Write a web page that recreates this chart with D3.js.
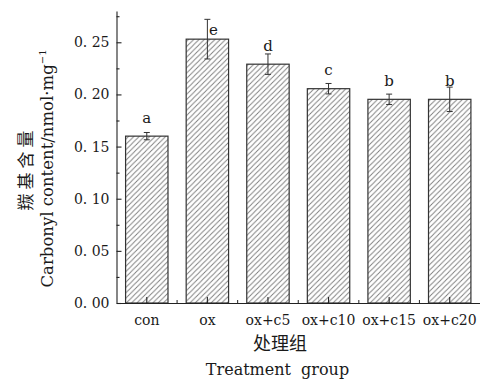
<!DOCTYPE html>
<html>
<head>
<meta charset="utf-8">
<script src="https://cdn.jsdelivr.net/npm/d3@7"></script>
<style>
  html, body { margin: 0; padding: 0; background: #fff; }
  svg { display: block; }
  .serif { font-family: "DejaVu Serif", "Liberation Serif", serif; fill: #1a1a1a; }
  .cjk { font-family: "Noto Sans CJK SC", sans-serif; fill: #1a1a1a; }
</style>
</head>
<body>
<svg id="chart" width="480" height="382"></svg>
<script>
// Carbonyl content per treatment group (mean ± error), with significance letters
const groups   = ["con", "ox", "ox+c5", "ox+c10", "ox+c15", "ox+c20"];
const means    = [0.160, 0.253, 0.229, 0.2055, 0.1953, 0.1953];
const errors   = [0.0035, 0.019, 0.0098, 0.005, 0.005, 0.0117];
const letters  = ["a", "e", "d", "c", "b", "b"];
const yMajorTicks = [0, 0.05, 0.10, 0.15, 0.20, 0.25];
const yMinorTicks = [0.025, 0.075, 0.125, 0.175, 0.225, 0.275];
const yTitleCn = "羰基含量";
const yTitleEn = "Carbonyl content/nmol·mg";
const xTitleCn = "处理组";
const xTitleEn = "Treatment group";

const svg = d3.select("#chart");
const axisColor = "#222";

const x = d3.scaleBand().domain(groups).range([116.5, 480]).paddingInner(0).paddingOuter(0);
const y = d3.scaleLinear().domain([0, 0.28]).range([303, 11]);
const barW = x.bandwidth() * 0.7;

// diagonal hatch fill
const s = 5.3;
const defs = svg.append("defs");
defs.append("pattern")
  .attr("id", "hatch")
  .attr("patternUnits", "userSpaceOnUse")
  .attr("width", s).attr("height", s)
  .append("path")
  .attr("d", `M0,${s} L${s},0 M-1,1 L1,-1 M${s - 1},${s + 1} L${s + 1},${s - 1}`)
  .attr("stroke", "#7a7a7a")
  .attr("stroke-width", 0.9)
  .attr("fill", "none");

const rows = groups.map((g, i) => ({ g, v: means[i], e: errors[i], l: letters[i] }));

// bars
svg.append("g").selectAll("rect").data(rows).join("rect")
  .attr("x", d => x(d.g) + (x.bandwidth() - barW) / 2)
  .attr("y", d => y(d.v))
  .attr("width", barW)
  .attr("height", d => y(0) - y(d.v))
  .attr("fill", "url(#hatch)")
  .attr("stroke", "#333")
  .attr("stroke-width", 1.2);

// error bars
const cap = 3;
const eb = svg.append("g").attr("stroke", "#333").attr("stroke-width", 1);
rows.forEach(d => {
  const cx = x(d.g) + x.bandwidth() / 2;
  eb.append("line").attr("x1", cx).attr("x2", cx).attr("y1", y(d.v + d.e)).attr("y2", y(d.v - d.e));
  eb.append("line").attr("x1", cx - cap).attr("x2", cx + cap).attr("y1", y(d.v + d.e)).attr("y2", y(d.v + d.e));
  eb.append("line").attr("x1", cx - cap).attr("x2", cx + cap).attr("y1", y(d.v - d.e)).attr("y2", y(d.v - d.e));
});

// significance letters; moved beside the error bar when it reaches into the label spot
svg.append("g").selectAll("text").data(rows).join("text")
  .attr("class", "serif")
  .attr("font-size", 15)
  .each(function (d) {
    const cx = x(d.g) + x.bandwidth() / 2;
    const top = y(d.v);
    const errTop = y(d.v + d.e);
    const sel = d3.select(this);
    if (errTop < top - 16) {
      sel.attr("x", cx + 1.5).attr("y", top - 4.5).attr("text-anchor", "start");
    } else {
      sel.attr("x", cx).attr("y", top - 13.5).attr("text-anchor", "middle");
    }
  })
  .text(d => d.l);

// y axis (ticks pointing inward)
const yAxis = svg.append("g").attr("transform", "translate(116.5,0)")
  .call(d3.axisLeft(y).tickValues(yMajorTicks).tickSizeInner(-5).tickSizeOuter(0).tickPadding(7)
    .tickFormat(d => d3.format(".2f")(d).replace(".", ". ")));
svg.append("g").attr("transform", "translate(116.5,0)")
  .call(d3.axisLeft(y).tickValues(yMinorTicks).tickSize(-3).tickFormat(""))
  .call(g => g.select(".domain").remove());

// x axis (ticks at group centres, shorter ones between groups)
svg.append("g").attr("transform", "translate(0,303)")
  .call(d3.axisBottom(x).tickSizeInner(-6).tickSizeOuter(0).tickPadding(12));
const bounds = groups.slice(1).map(g => x(g));
svg.append("g").selectAll("line").data(bounds).join("line")
  .attr("x1", d => d).attr("x2", d => d)
  .attr("y1", 303).attr("y2", 300)
  .attr("stroke", axisColor).attr("stroke-width", 1);

svg.selectAll(".tick line, .domain").attr("stroke", axisColor).attr("stroke-width", 1.1);
svg.selectAll(".tick text")
  .attr("font-family", "'DejaVu Serif', 'Liberation Serif', serif")
  .attr("font-size", 14)
  .attr("fill", "#1a1a1a");

// axis titles
svg.append("text").attr("class", "cjk")
  .attr("x", 280).attr("y", 350).attr("text-anchor", "middle")
  .attr("font-size", 18)
  .text(xTitleCn);
svg.append("text").attr("class", "serif")
  .attr("x", 277.5).attr("y", 375).attr("text-anchor", "middle")
  .attr("font-size", 16).attr("word-spacing", 5)
  .text(xTitleEn);

svg.append("text").attr("class", "cjk")
  .attr("transform", "translate(31.5,168.5) rotate(-90)")
  .attr("text-anchor", "middle")
  .attr("font-size", 17).attr("letter-spacing", 4)
  .text(yTitleCn);
const yt = svg.append("text").attr("class", "serif")
  .attr("transform", "translate(52.7,168.5) rotate(-90)")
  .attr("text-anchor", "middle")
  .attr("font-size", 16.5);
yt.append("tspan").text(yTitleEn);
yt.append("tspan").attr("font-size", 10).attr("dy", -7).text("−1");
</script>
</body>
</html>
